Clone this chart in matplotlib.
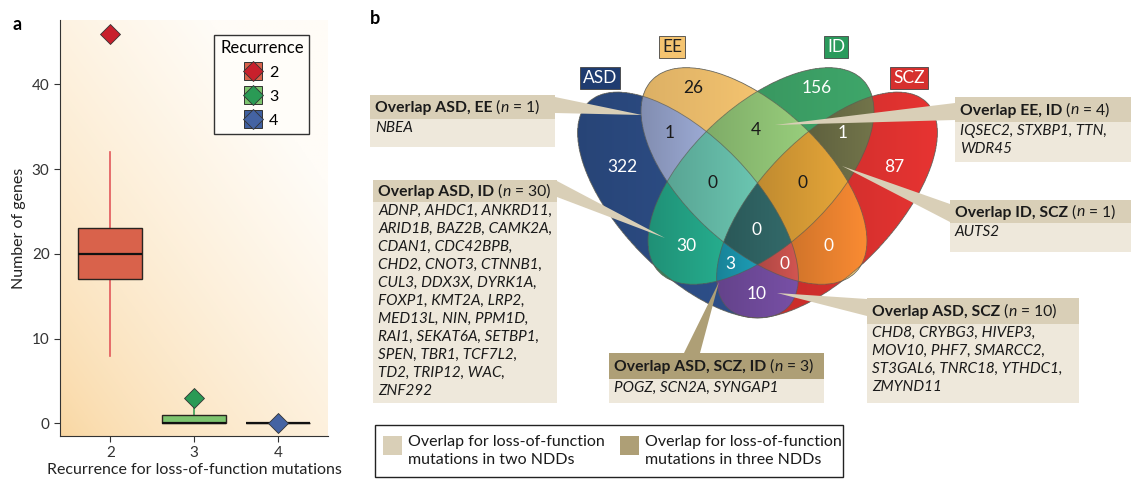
import numpy as np
import matplotlib
matplotlib.use('Agg')
import matplotlib.pyplot as plt
from matplotlib.patches import Ellipse, Rectangle, Polygon
from matplotlib.lines import Line2D
from matplotlib.legend_handler import HandlerTuple
from matplotlib.colors import to_rgb

plt.rcParams['font.family'] = ['Lato', 'DejaVu Sans']

# ---- panel a: box plot summary ----
recurrence = [2, 3, 4]
q1 = [17, 0, 0]
medians = [20, 0, 0]
q3 = [23, 1, 0]
whisker_lo = [8, 0, 0]
whisker_hi = [32, 2, 0]
outliers = [[46], [3], [0]]

box_colors = ['#d9624b', '#7dc46f', '#3f5f9f']
whisker_colors = ['#e2575a', '#3aa055', '#3f5f9f']
flier_colors = ['#c8202c', '#2a9a55', '#4463a3']

# ---- panel b: Venn counts ----
disorders = ['ASD', 'EE', 'ID', 'SCZ']
region_sets = ['ASD', 'EE', 'ID', 'SCZ',
               'ASD,EE', 'EE,ID', 'ID,SCZ', 'ASD,ID', 'EE,SCZ', 'ASD,SCZ',
               'ASD,EE,ID', 'EE,ID,SCZ', 'ASD,ID,SCZ', 'ASD,EE,SCZ',
               'ASD,EE,ID,SCZ']
region_counts = [322, 26, 156, 87,
                 1, 4, 1, 30, 0, 10,
                 0, 0, 3, 0,
                 0]

callout_sets = ['ASD, EE', 'ASD, ID', 'EE, ID', 'ID, SCZ', 'ASD, SCZ', 'ASD, SCZ, ID']
callout_genes = [
    ['NBEA'],
    ['ADNP', 'AHDC1', 'ANKRD11', 'ARID1B', 'BAZ2B', 'CAMK2A', 'CDAN1', 'CDC42BPB',
     'CHD2', 'CNOT3', 'CTNNB1', 'CUL3', 'DDX3X', 'DYRK1A', 'FOXP1', 'KMT2A', 'LRP2',
     'MED13L', 'NIN', 'PPM1D', 'RAI1', 'SEKAT6A', 'SETBP1', 'SPEN', 'TBR1', 'TCF7L2',
     'TD2', 'TRIP12', 'WAC', 'ZNF292'],
    ['IQSEC2', 'STXBP1', 'TTN', 'WDR45'],
    ['AUTS2'],
    ['CHD8', 'CRYBG3', 'HIVEP3', 'MOV10', 'PHF7', 'SMARCC2', 'ST3GAL6', 'TNRC18',
     'YTHDC1', 'ZMYND11'],
    ['POGZ', 'SCN2A', 'SYNGAP1'],
]
genes_per_line = [[1], [3, 3, 2, 3, 3, 3, 3, 3, 3, 3, 1], [3, 1], [1], [3, 3, 3, 1], [3]]

# ---- styling / layout (pixel units, y down) ----
ellipses = {  # cx, cy, semi-major, semi-minor, angle
    'ASD': (688, 205, 143, 67, 46),
    'EE': (754, 176, 140, 70, 43),
    'ID': (761, 176, 140, 70, -43),
    'SCZ': (827, 205, 143, 67, -46),
}
region_colors = {
    'ASD': '#2c4c84', 'EE': '#f5c470', 'ID': '#3a9a62', 'SCZ': '#d6302e',
    'ASD,EE': '#909dc4', 'EE,ID': '#8dbf73', 'ID,SCZ': '#6a6c45',
    'ASD,ID': '#23a083', 'EE,SCZ': '#e8812f', 'ASD,SCZ': '#6f4a9a',
    'ASD,EE,ID': '#63b7a4', 'EE,ID,SCZ': '#d59a35', 'ASD,ID,SCZ': '#1b91a8',
    'ASD,EE,SCZ': '#c24f4b', 'ASD,EE,ID,SCZ': '#2f6262',
}
label_pos = {
    'ASD': (622, 167), 'EE': (693, 88), 'ID': (817, 88), 'SCZ': (894, 167),
    'ASD,EE': (670, 133), 'EE,ID': (756, 130), 'ID,SCZ': (843, 133),
    'ASD,ID': (686, 246), 'EE,SCZ': (829, 246), 'ASD,SCZ': (757, 294),
    'ASD,EE,ID': (712, 183), 'EE,ID,SCZ': (802, 183), 'ASD,ID,SCZ': (730, 264),
    'ASD,EE,SCZ': (784, 264), 'ASD,EE,ID,SCZ': (757, 230),
}
dark_text = {'EE', 'ASD,EE', 'EE,ID', 'ASD,EE,ID', 'EE,ID,SCZ'}
tag_style = {
    'ASD': ((600, 78), '#1f3c70', 'white'),
    'EE': ((672, 47), '#f5c470', '#222222'),
    'ID': ((836, 47), '#2a9a5c', 'white'),
    'SCZ': ((909, 78), '#d6302e', 'white'),
}
callout_layout = [
    dict(x=370, y=95, w=185, hh=24, bh=28, base=[(555, 97), (555, 113)], tip=(642, 115)),
    dict(x=373, y=180, w=184, hh=22, bh=201, base=[(557, 181), (557, 197)], tip=(665, 238)),
    dict(x=955, y=97, w=176, hh=25, bh=40, base=[(955, 103), (955, 120)], tip=(775, 125)),
    dict(x=950, y=200, w=181, hh=23, bh=29, base=[(950, 204), (950, 222)], tip=(842, 166)),
    dict(x=867, y=298, w=212, hh=26, bh=79, base=[(867, 299), (867, 316)], tip=(777, 293)),
    dict(x=609, y=353, w=215, hh=26, bh=24, base=[(684, 353), (700, 353)], tip=(719, 282)),
]
head_two = '#d9cfb7'
head_three = '#ae9f76'
body_col = '#eee8db'

fig = plt.figure(figsize=(11.34, 4.8), dpi=100)
renderer = fig.canvas.get_renderer()

# full-figure pixel axes for panel b
axb = fig.add_axes([0, 0, 1, 1])
axb.set_xlim(0, 1134)
axb.set_ylim(480, 0)
axb.axis('off')


def text_runs(x, y, runs, **kw):
    # place consecutive pieces of text with different styles on one line
    for s, style in runs:
        t = axb.text(x, y, s, ha='left', **style, **kw)
        bb = t.get_window_extent(renderer=renderer)
        x = axb.transData.inverted().transform((bb.x1, bb.y0))[0]


# rasterised Venn regions
xs = np.arange(550, 970, 0.5) + 0.25
ys = np.arange(40, 340, 0.5) + 0.25
X, Y = np.meshgrid(xs, ys)
code = np.zeros(X.shape, dtype=int)
for i, name in enumerate(disorders):
    cx, cy, a, b, ang = ellipses[name]
    t = np.deg2rad(ang)
    u = (X - cx) * np.cos(t) + (Y - cy) * np.sin(t)
    v = -(X - cx) * np.sin(t) + (Y - cy) * np.cos(t)
    code += (((u / a) ** 2 + (v / b) ** 2) <= 1).astype(int) << i

img = np.zeros(X.shape + (4,))
for key in region_sets:
    c = sum(1 << disorders.index(s) for s in key.split(','))
    m = code == c
    if not m.any():
        continue
    xm = X[m]
    frac = (xm - xm.min()) / max(xm.max() - xm.min(), 1)
    shade = 0.9 + 0.18 * frac
    rgb = np.clip(np.array(to_rgb(region_colors[key]))[None, :] * shade[:, None], 0, 1)
    img[m, :3] = rgb
    img[m, 3] = 1
axb.imshow(img, extent=(xs[0] - 0.25, xs[-1] + 0.25, ys[-1] + 0.25, ys[0] - 0.25),
           origin='upper', interpolation='antialiased', zorder=1, aspect='auto')

for name in disorders:
    cx, cy, a, b, ang = ellipses[name]
    axb.add_patch(Ellipse((cx, cy), 2 * a, 2 * b, angle=ang, fill=False,
                          ec='#5a5a50', lw=0.6, alpha=0.7, zorder=2))

for key, n in zip(region_sets, region_counts):
    x, y = label_pos[key]
    axb.text(x, y, str(n), ha='center', va='center', fontsize=12.5,
             color='#1a1a1a' if key in dark_text else 'white', zorder=6)

for name in disorders:
    (x, y), fc, tc = tag_style[name]
    axb.text(x, y, name, ha='center', va='center', fontsize=12.5, color=tc, zorder=6,
             bbox=dict(boxstyle='square,pad=0.18', fc=fc, ec='#444444', lw=0.6))

# callouts
for sets, genes, per, lay in zip(callout_sets, callout_genes, genes_per_line, callout_layout):
    hc = head_three if sets.count(',') == 2 else head_two
    axb.add_patch(Polygon([lay['base'][0], lay['tip'], lay['base'][1]], closed=True,
                          fc=hc, ec='none', zorder=3))
    axb.add_patch(Rectangle((lay['x'], lay['y']), lay['w'], lay['hh'], fc=hc, ec='none', zorder=4))
    axb.add_patch(Rectangle((lay['x'], lay['y'] + lay['hh']), lay['w'], lay['bh'],
                            fc=body_col, ec='none', zorder=4))
    text_runs(lay['x'] + 5, lay['y'] + lay['hh'] / 2 + 1,
              [('Overlap ' + sets, dict(fontweight='bold')),
               (' (', {}), ('n', dict(style='italic')), (' = %d)' % len(genes), {})],
              va='center', fontsize=11.3, color='#1a1a1a', zorder=5)
    lines, j = [], 0
    for cnt in per:
        chunk = genes[j:j + cnt]
        j += cnt
        lines.append(', '.join(chunk) + (',' if j < len(genes) else ''))
    axb.text(lay['x'] + 5, lay['y'] + lay['hh'] + 2, '\n'.join(lines), ha='left', va='top',
             fontsize=11, style='italic', color='#1a1a1a', linespacing=1.36, zorder=5)

# bottom legend
axb.add_patch(Rectangle((375, 425), 468, 52, fc='white', ec='#222222', lw=1, zorder=4))
axb.add_patch(Rectangle((383, 436), 19, 19, fc=head_two, ec='none', zorder=5))
axb.add_patch(Rectangle((620, 436), 19, 19, fc=head_three, ec='none', zorder=5))
axb.text(408, 451, 'Overlap for loss-of-function\nmutations in two NDDs', ha='left', va='center',
         fontsize=11.5, color='#1a1a1a', linespacing=1.28, zorder=5)
axb.text(645, 451, 'Overlap for loss-of-function\nmutations in three NDDs', ha='left', va='center',
         fontsize=11.5, color='#1a1a1a', linespacing=1.28, zorder=5)

axb.text(17, 25, 'a', fontsize=13, fontweight='bold', ha='center', va='center')
axb.text(375, 18, 'b', fontsize=13, fontweight='bold', ha='center', va='center')

# ---- panel a ----
ax = fig.add_axes([60 / 1134, 1 - 436 / 480, 268 / 1134, 416 / 480])
gx, gy = np.meshgrid(np.linspace(0, 1, 200), np.linspace(0, 1, 200))
tt = np.clip((gx * 0.9 + gy) / 1.5, 0, 1) ** 0.7
c0 = np.array(to_rgb('#f9d6a0'))
c1 = np.array(to_rgb('#fffcf7'))
ax.imshow(c0 + (c1 - c0) * tt[..., None], extent=(0, 1, 0, 1), transform=ax.transAxes,
          origin='lower', aspect='auto', zorder=0)

stats = [dict(med=m, q1=lo_q, q3=hi_q, whislo=wl, whishi=wh, fliers=f)
         for m, lo_q, hi_q, wl, wh, f in zip(medians, q1, q3, whisker_lo, whisker_hi, outliers)]
bp = ax.bxp(stats, positions=recurrence, widths=0.76, patch_artist=True, showcaps=False,
            manage_ticks=False)
for i in range(3):
    bp['boxes'][i].set(facecolor=box_colors[i], edgecolor='#2a2420', lw=1, zorder=3)
    bp['medians'][i].set(color='#111111', lw=1.6, zorder=4)
    for w in bp['whiskers'][2 * i:2 * i + 2]:
        w.set(color=whisker_colors[i], lw=1.2, zorder=2)
    bp['fliers'][i].set(marker='D', markersize=10, markerfacecolor=flier_colors[i],
                        markeredgecolor='#333333', markeredgewidth=0.6, zorder=5)

ax.set_xlim(1.4, 4.6)
ax.set_ylim(-1.5, 47.6)
ax.set_xticks(recurrence)
ax.set_xticklabels([str(r) for r in recurrence])
ax.set_yticks([0, 10, 20, 30, 40])
for s in ['top', 'right']:
    ax.spines[s].set_visible(False)
for s in ['left', 'bottom']:
    ax.spines[s].set_color('#333333')
ax.tick_params(labelsize=11, colors='#333333', length=4)
ax.set_xlabel('Recurrence for loss-of-function mutations', fontsize=11.5, color='#222222', labelpad=2)
ax.set_ylabel('Number of genes', fontsize=11.5, color='#222222', labelpad=4)

handles = [(Line2D([], [], marker='s', ls='none', markersize=13, markerfacecolor=box_colors[i],
                   markeredgecolor='#333333', markeredgewidth=0.7),
            Line2D([], [], marker='D', ls='none', markersize=10, markerfacecolor=flier_colors[i],
                   markeredgecolor='#333333', markeredgewidth=0.6))
           for i in range(3)]
leg = ax.legend(handles, [str(r) for r in recurrence], title='Recurrence',
                handler_map={tuple: HandlerTuple(ndivide=1, pad=0)},
                loc='upper right', bbox_to_anchor=(0.93, 0.965), borderaxespad=0,
                fancybox=False, framealpha=1, facecolor='#fffdf9', edgecolor='#333333',
                fontsize=11.5, title_fontsize=12, handlelength=1.0, handleheight=1.1,
                handletextpad=0.5, labelspacing=0.5, borderpad=0.35)
leg._legend_box.align = 'center'
leg.get_frame().set_linewidth(1)

fig.savefig('out.png', dpi=100)
